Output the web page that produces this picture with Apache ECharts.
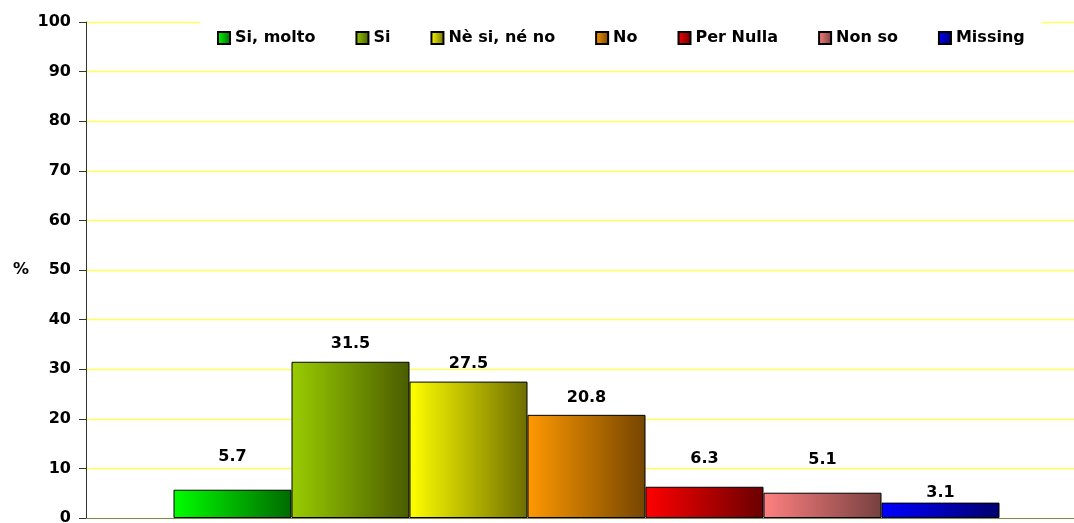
<!DOCTYPE html>
<html>
<head>
<meta charset="utf-8">
<script src="https://cdn.jsdelivr.net/npm/echarts@6/dist/echarts.min.js"></script>
<style>
html,body{margin:0;padding:0;background:#fff;}
#c{width:1074px;height:523px;}
</style>
</head>
<body>
<div id="c"></div>
<script>
// ---- data ----
const seriesNames = ['Si, molto', 'Si', 'Nè si, né no', 'No', 'Per Nulla', 'Non so', 'Missing'];
const seriesValues = [5.7, 31.5, 27.5, 20.8, 6.3, 5.1, 3.1];
const yTicks = [0, 10, 20, 30, 40, 50, 60, 70, 80, 90, 100];

// ---- styles ----
const lightColors = ['#00ff00', '#99cc00', '#ffff00', '#ff9900', '#ff0000', '#ff8080', '#0000ff'];
const darkColors  = ['#006a00', '#4a5c00', '#6e6e00', '#754500', '#6a0000', '#774040', '#00006e'];
const labelLift   = [-20, -5, -5, -4, -15, -20, 3];

const FONT = 'DejaVu Sans';
const chart = echarts.init(document.getElementById('c'), null, {renderer: 'canvas'});

const series = seriesNames.map((name, i) => ({
  name: name,
  type: 'bar',
  barWidth: 118,
  barGap: '0%',
  data: [seriesValues[i]],
  itemStyle: {
    color: new echarts.graphic.LinearGradient(0, 0, 1, 0, [
      {offset: 0, color: lightColors[i]},
      {offset: 1, color: darkColors[i]}
    ]),
    borderColor: '#000',
    borderWidth: 1
  },
  label: {
    show: true,
    position: 'top',
    distance: 5,
    offset: [0, labelLift[i]],
    color: '#000',
    fontFamily: FONT,
    fontWeight: 'bold',
    fontSize: 16,
    formatter: p => p.value.toFixed(1)
  }
}));

chart.setOption({
  animation: false,
  backgroundColor: '#fff',
  grid: {left: 86, top: 22, bottom: 5, right: -13, containLabel: false, outerBoundsMode: 'none'},
  legend: {
    data: seriesNames,
    left: 200,
    top: 20,
    padding: [10, 17, 10, 17],
    backgroundColor: '#fff',
    itemWidth: 12,
    itemHeight: 12,
    itemGap: 40,
    icon: 'rect',
    textStyle: {fontFamily: FONT, fontWeight: 'bold', fontSize: 16, color: '#000'}
  },
  xAxis: {
    type: 'category',
    data: [''],
    axisLine: {show: true, lineStyle: {color: '#808080', width: 1}},
    axisTick: {show: false},
    axisLabel: {show: false},
    splitLine: {show: false}
  },
  yAxis: {
    type: 'value',
    min: yTicks[0],
    max: yTicks[yTicks.length - 1],
    interval: yTicks[1] - yTicks[0],
    name: '%',
    nameLocation: 'middle',
    nameRotate: 0,
    nameGap: 65,
    nameTextStyle: {fontFamily: FONT, fontWeight: 'bold', fontSize: 16, color: '#000', align: 'center', verticalAlign: 'middle'},
    axisLine: {show: true, lineStyle: {color: '#333', width: 1}},
    axisTick: {show: true, length: 7, lineStyle: {color: '#333'}},
    axisLabel: {margin: 15, fontFamily: FONT, fontWeight: 'bold', fontSize: 16, color: '#000'},
    splitLine: {show: true, lineStyle: {color: '#ffff60', width: 1.3}}
  },
  series: series
});
</script>
</body>
</html>
